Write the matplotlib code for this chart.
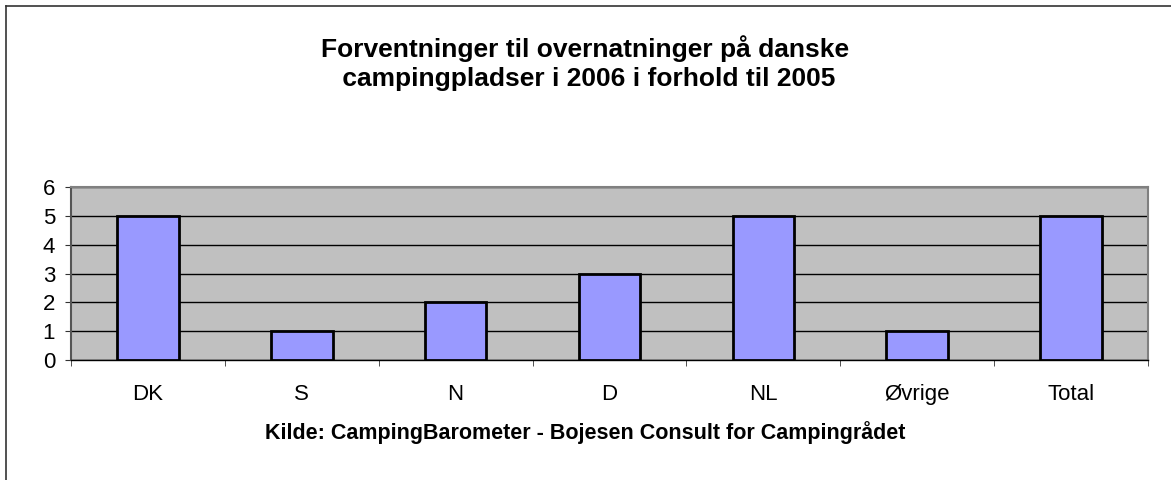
import numpy as np
import matplotlib.pyplot as plt
from matplotlib.lines import Line2D

plt.rcParams['font.family'] = ['Liberation Sans', 'DejaVu Sans']

# Data
kategorier = ['DK', 'S', 'N', 'D', 'NL', 'Øvrige', 'Total']
vaerdier = [5, 1, 2, 3, 5, 1, 5]

fig = plt.figure(figsize=(11.71, 4.80), dpi=100)
ax = fig.add_axes([71 / 1171, 1 - 360 / 480, (1148 - 71) / 1171, (360 - 187) / 480])

x = np.arange(len(kategorier))
ax.set_facecolor('#C0C0C0')
ax.bar(x, vaerdier, width=0.4, color='#9999FF', edgecolor='black', linewidth=2, zorder=3)

ax.set_xlim(-0.5, len(kategorier) - 0.5)
ax.set_ylim(0, 6)
ax.set_yticks(range(0, 7))
ax.yaxis.grid(True, color='black', linewidth=1)
ax.set_axisbelow(True)

ax.set_xticks(x)
ax.set_xticklabels(kategorier, fontsize=16)
ax.set_xticks(np.arange(-0.5, len(kategorier)), minor=True)
ax.tick_params(axis='x', which='major', length=0, pad=17)
ax.tick_params(axis='x', which='minor', length=4.5, color='#333333', direction='out')
ax.tick_params(axis='y', labelsize=16, length=4.5, color='#333333', pad=7)

for s in ['top', 'right']:
    ax.spines[s].set_color('#808080')
    ax.spines[s].set_linewidth(1.5)
ax.spines['left'].set_color('#555555')
ax.spines['left'].set_linewidth(1.5)
ax.spines['bottom'].set_color('black')
ax.spines['bottom'].set_linewidth(1)

fig.text(0.5, 1 - 63 / 480,
         'Forventninger til overnatninger på danske\n campingpladser i 2006 i forhold til 2005',
         ha='center', va='center', fontsize=19, fontweight='bold', linespacing=1.27)
fig.text(0.5, 1 - 433 / 480, 'Kilde: CampingBarometer - Bojesen Consult for Campingrådet',
         ha='center', va='center', fontsize=15.5, fontweight='bold')

# Ramme om diagrammet
fig.add_artist(Line2D([6 / 1171, 6 / 1171], [0, 1 - 6 / 480], transform=fig.transFigure,
                      color='#333333', linewidth=1.2))
fig.add_artist(Line2D([6 / 1171, 1], [1 - 6 / 480, 1 - 6 / 480], transform=fig.transFigure,
                      color='#333333', linewidth=1.2))

fig.savefig('out.png', dpi=100)
